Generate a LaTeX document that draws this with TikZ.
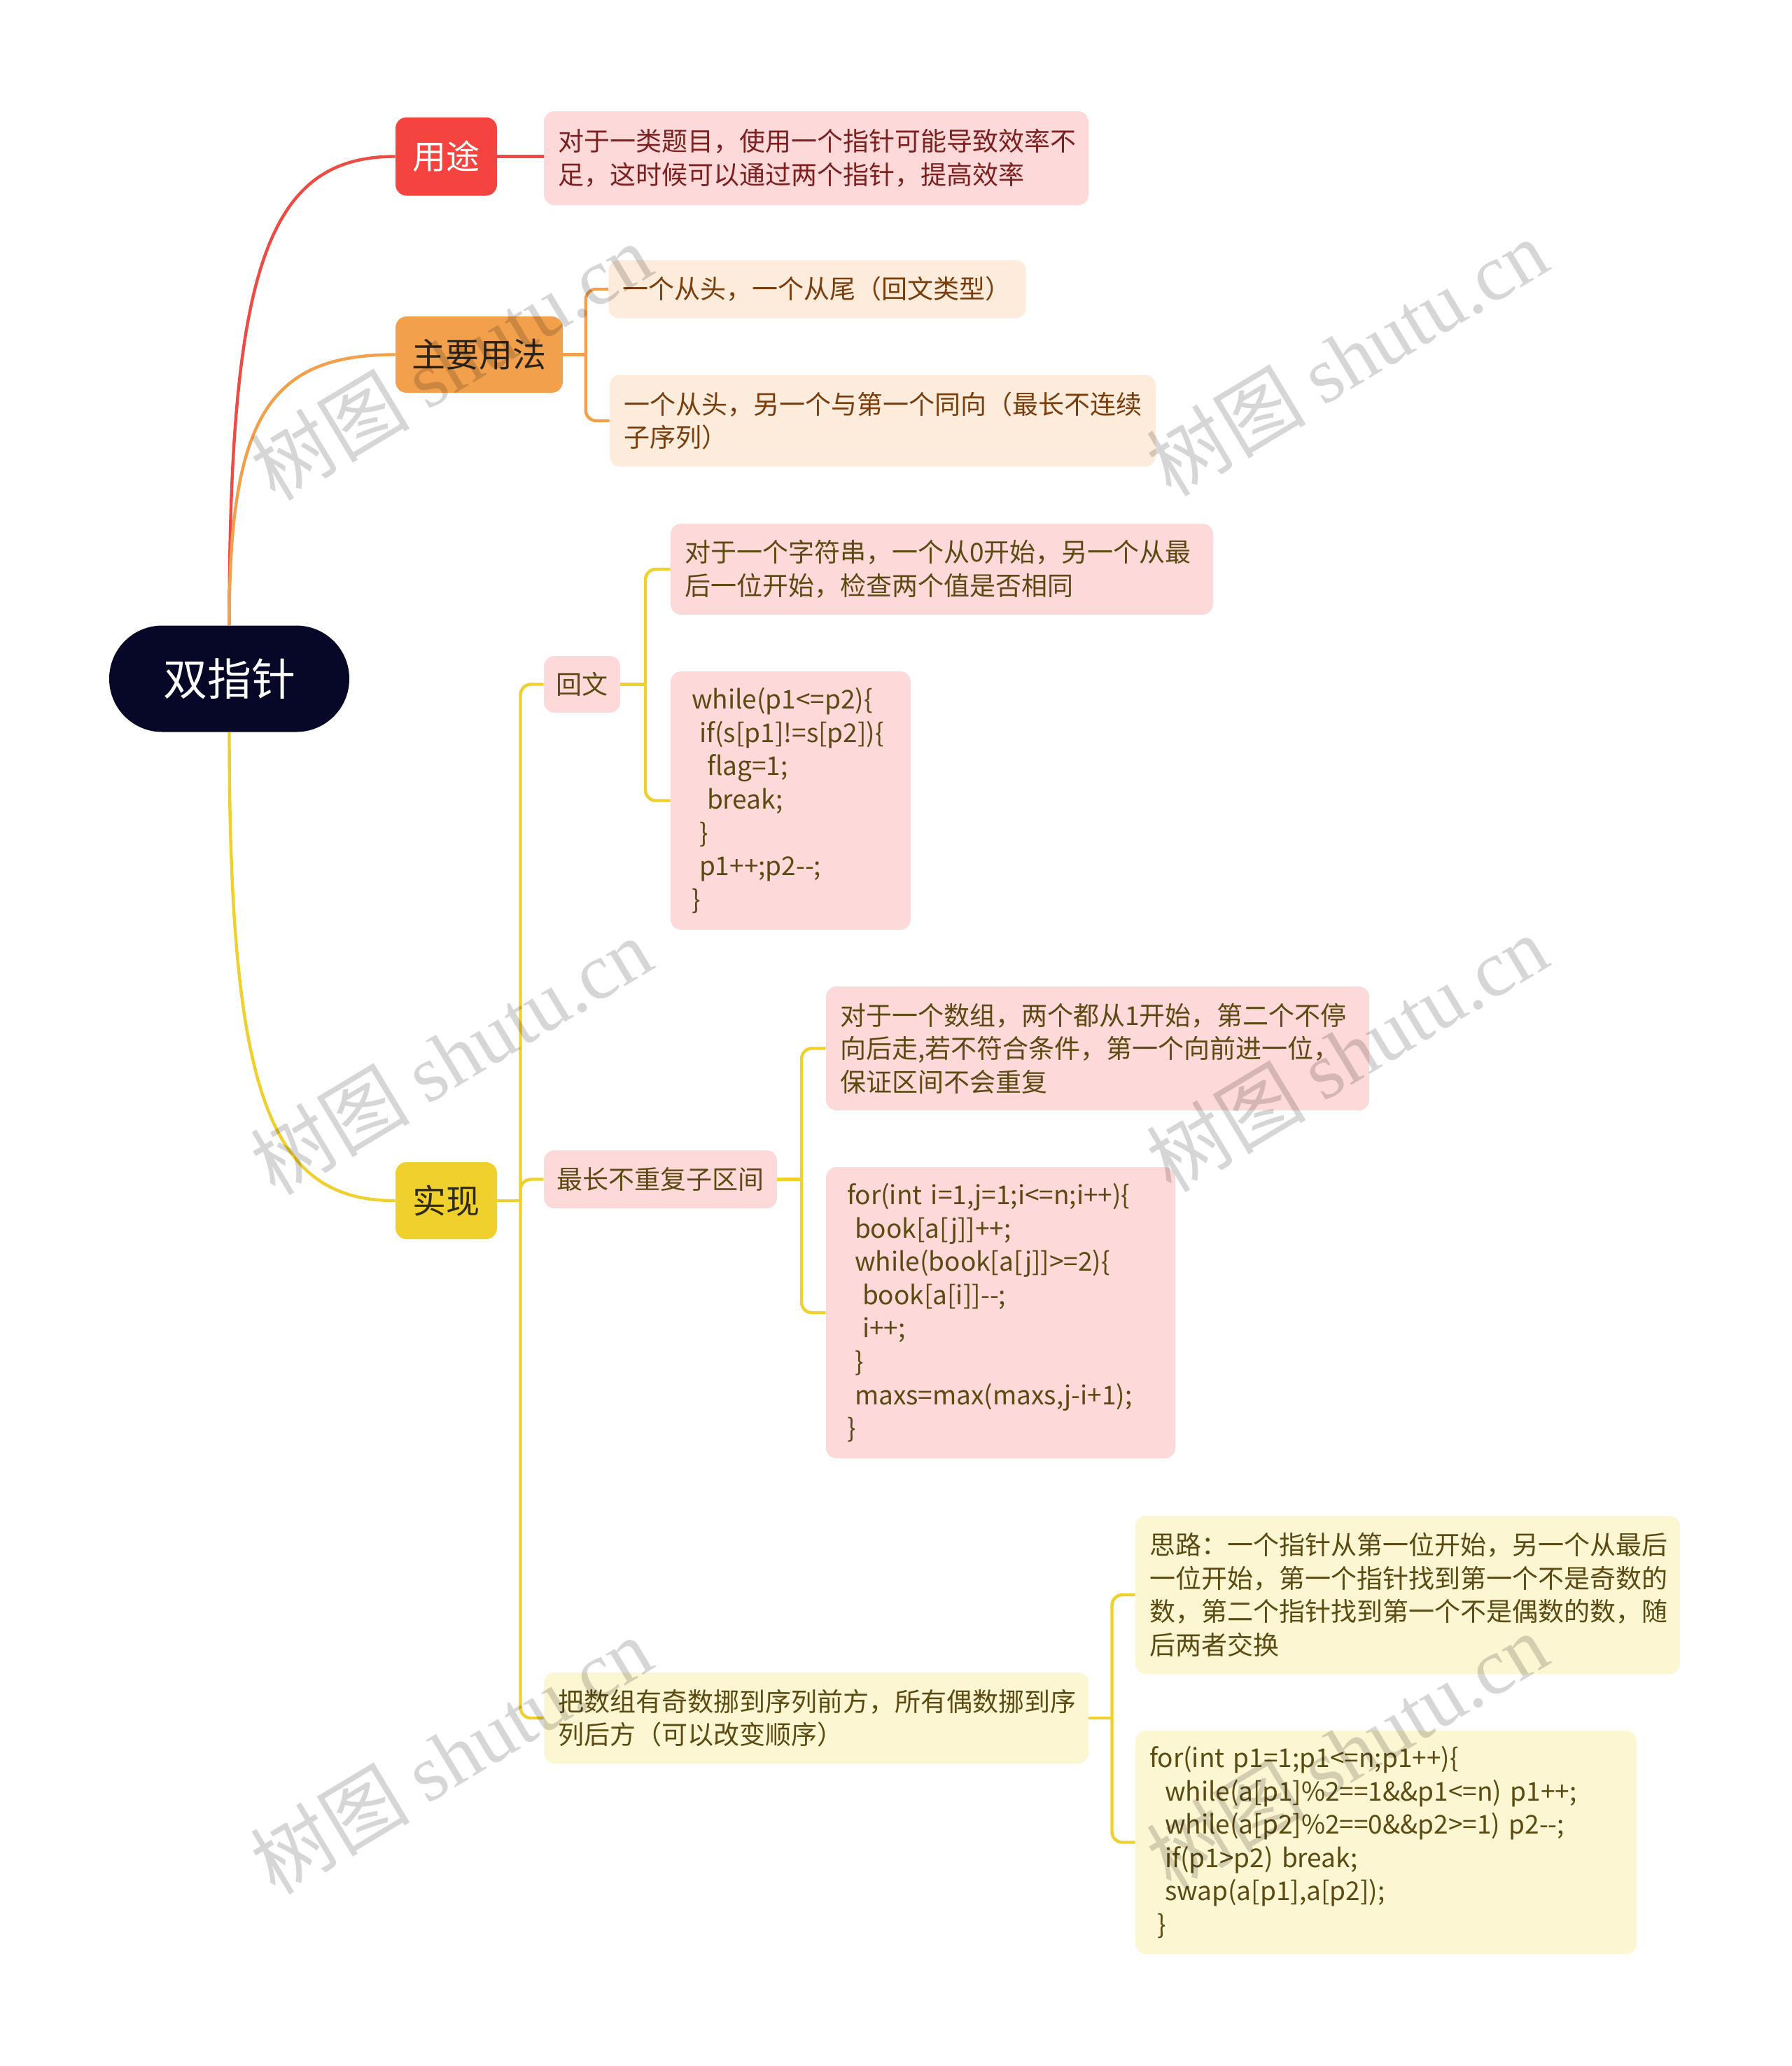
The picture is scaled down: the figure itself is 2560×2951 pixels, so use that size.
\documentclass[tikz,border=0pt]{standalone}
\usepackage{fontspec}
\setmainfont{Noto Sans CJK SC}
\newfontfamily\wmlatin{Liberation Serif}
\usetikzlibrary{calc}
\definecolor{cRoot}{HTML}{070828}
\definecolor{cRed}{HTML}{F5443F}
\definecolor{cRedL}{HTML}{EE4B45}
\definecolor{cOrange}{HTML}{F3A04C}
\definecolor{cYellow}{HTML}{F0D02C}
\definecolor{cPink}{HTML}{FDD9D9}
\definecolor{cPeach}{HTML}{FDEBDB}
\definecolor{cCream}{HTML}{FDF6D3}
\definecolor{tRed}{HTML}{7D2020}
\definecolor{tBrown}{HTML}{7A3D0C}
\definecolor{tOlive}{HTML}{5B4A12}
\definecolor{tDarkO}{HTML}{2E2416}
\definecolor{tDarkY}{HTML}{2E2A14}
\newcommand\txtfont{\fontsize{18.5}{23.8}\selectfont}
\newcommand\ind[1]{\hspace*{#1}}
\tikzset{
  rootbox/.style={fill=cRoot, text=white, rounded corners=37.9pt, inner sep=0pt,
    minimum width=171.5pt, minimum height=76pt, font=\fontsize{31.5}{38}\selectfont},
  mainbox/.style={rounded corners=8pt, inner sep=0pt, minimum width=72.5pt,
    minimum height=56pt, font=\fontsize{24}{28}\selectfont},
  leaf/.style={rounded corners=7.5pt, inner xsep=10pt, inner ysep=0pt, align=left, font=\txtfont},
  conn/.style={line width=2.2pt},
  elbow/.style={line width=2.2pt, rounded corners=7.5pt},
  wm/.style={font=\fontsize{57}{57}\selectfont, text=black, text opacity=0.16, rotate=31, inner sep=0pt}
}
\begin{document}
\begin{tikzpicture}[x=0.5pt, y=-0.5pt]
\useasboundingbox (0,0) rectangle (2560,2951);
% root and main branches
\node[rootbox] (root) at (327.5,969.5) {双指针};
\node[mainbox, fill=cRed, text=white] (yt) at (637.5,223.5) {用途};
\node[mainbox, fill=cOrange, text=tDarkO, minimum width=119.5pt, minimum height=54.5pt] (zy) at (684.5,506.5) {主要用法};
\node[mainbox, fill=cYellow, text=tDarkY, minimum height=55pt] (sx) at (637.5,1715) {实现};
% 用途
\node[leaf, fill=cPink, text=tRed, minimum width=389pt, minimum height=67pt, text width=369pt] (yt1) at (1166,226)
  {对于一类题目，使用一个指针可能导致效率不\\足，这时候可以通过两个指针，提高效率};
% 主要用法
\node[leaf, fill=cPeach, text=tBrown, minimum width=296.5pt, minimum height=41.5pt, text width=278pt] (zya) at (1167.5,413)
  {一个从头，一个从尾（回文类型）};
\node[leaf, fill=cPeach, text=tBrown, minimum width=390pt, minimum height=65.5pt, text width=370pt] (zyb) at (1261,601)
  {一个从头，另一个与第一个同向（最长不连续\\子序列）};
% 实现 children
\node[leaf, fill=cPink, text=tOlive, minimum width=54.5pt, minimum height=40.5pt, inner xsep=0pt, align=center] (hw) at (831.5,977.5) {回文};
\node[leaf, fill=cPink, text=tOlive, minimum width=166.5pt, minimum height=41.5pt, inner xsep=0pt, align=center] (zc) at (943.5,1684.5) {最长不重复子区间};
\node[leaf, fill=cCream, text=tOlive, minimum width=389pt, minimum height=65pt, text width=369pt] (bs) at (1166,2454)
  {把数组有奇数挪到序列前方，所有偶数挪到序\\列后方（可以改变顺序）};
% 回文 children
\node[leaf, fill=cPink, text=tOlive, minimum width=387.5pt, minimum height=65pt, text width=367.5pt] (hw1) at (1345.5,813)
  {对于一个字符串，一个从0开始，另一个从最\\后一位开始，检查两个值是否相同};
\node[leaf, fill=cPink, text=tOlive, minimum width=171.5pt, minimum height=184.5pt, text width=151.5pt] (hw2) at (1129.5,1143.5)
  {\ind{5pt}while(p1<=p2)\{\\
   \ind{10.5pt}if(s[p1]!=s[p2])\{\\
   \ind{16pt}flag=1;\\
   \ind{16pt}break;\\
   \ind{10.5pt}\}\\
   \ind{10.5pt}p1++;p2-{}-;\\
   \ind{5pt}\}};
% 最长 children
\node[leaf, fill=cPink, text=tOlive, minimum width=388pt, minimum height=88.5pt, text width=368pt] (zc1) at (1568,1497.5)
  {对于一个数组，两个都从1开始，第二个不停\\向后走,若不符合条件，第一个向前进一位，\\保证区间不会重复};
\node[leaf, fill=cPink, text=tOlive, minimum width=249.5pt, minimum height=208pt, text width=229.5pt] (zc2) at (1429.5,1875)
  {\ind{5pt}for(int i=1,j=1;i<=n;i++)\{\\
   \ind{10.5pt}book[a[j]]++;\\
   \ind{10.5pt}while(book[a[j]]>=2)\{\\
   \ind{16pt}book[a[i]]-{}-;\\
   \ind{16pt}i++;\\
   \ind{10.5pt}\}\\
   \ind{10.5pt}maxs=max(maxs,j-i+1);\\
   \ind{5pt}\}};
% 把数组 children
\node[leaf, fill=cCream, text=tOlive, minimum width=389pt, minimum height=113pt, text width=369pt] (bs1) at (2011,2278)
  {思路：一个指针从第一位开始，另一个从最后\\一位开始，第一个指针找到第一个不是奇数的\\数，第二个指针找到第一个不是偶数的数，随\\后两者交换};
\node[leaf, fill=cCream, text=tOlive, minimum width=358pt, minimum height=159.5pt, text width=338pt] (bs2) at (1980,2631.5)
  {for(int p1=1;p1<=n;p1++)\{\\
   \ind{11pt}while(a[p1]\%2==1\&\&p1<=n) p1++;\\
   \ind{11pt}while(a[p2]\%2==0\&\&p2>=1) p2-{}-;\\
   \ind{11pt}if(p1>p2) break;\\
   \ind{11pt}swap(a[p1],a[p2]);\\
   \ind{5.5pt}\}};
% root curves
\draw[conn, draw=cRedL] (root.north) .. controls ($(root.north)!0.77!(root.north|-yt.west)$) and ($(yt.west)!0.76!(yt.west-|root.north)$) .. (yt.west);
\draw[conn, draw=cOrange] (root.north) .. controls ($(root.north)!0.77!(root.north|-zy.west)$) and ($(zy.west)!0.76!(zy.west-|root.north)$) .. (zy.west);
\draw[conn, draw=cYellow] (root.south) .. controls ($(root.south)!0.77!(root.south|-sx.west)$) and ($(sx.west)!0.76!(sx.west-|root.south)$) .. (sx.west);
% 用途 link
\draw[conn, draw=cRedL] (yt.east) -- (yt.east-|yt1.west);
% 主要用法 elbows
\coordinate (jzy) at ($(zy.east)!0.5!(zya.west|-zy.east)$);
\draw[conn, draw=cOrange] (zy.east) -- (jzy);
\draw[elbow, draw=cOrange] (jzy) |- (zya.west);
\draw[elbow, draw=cOrange] (jzy) |- (zyb.west);
% 实现 elbows
\coordinate (jsx) at ($(sx.east)!0.5!(hw.west|-sx.east)$);
\draw[conn, draw=cYellow] (sx.east) -- (jsx);
\draw[elbow, draw=cYellow] (jsx) |- (hw.west);
\draw[elbow, draw=cYellow] (jsx) |- (zc.west);
\draw[elbow, draw=cYellow] (jsx) |- (bs.west);
% 回文 elbows
\coordinate (jhw) at ($(hw.east)!0.5!(hw1.west|-hw.east)$);
\draw[conn, draw=cYellow] (hw.east) -- (jhw);
\draw[elbow, draw=cYellow] (jhw) |- (hw1.west);
\draw[elbow, draw=cYellow] (jhw) |- (hw2.west);
% 最长 elbows
\coordinate (jzc) at ($(zc.east)!0.5!(zc1.west|-zc.east)$);
\draw[conn, draw=cYellow] (zc.east) -- (jzc);
\draw[elbow, draw=cYellow] (jzc) |- (zc1.west);
\draw[elbow, draw=cYellow] (jzc) |- (zc2.west);
% 把数组 elbows
\coordinate (jbs) at ($(bs.east)!0.5!(bs1.west|-bs.east)$);
\draw[conn, draw=cYellow] (bs.east) -- (jbs);
\draw[elbow, draw=cYellow] (jbs) |- (bs1.west);
\draw[elbow, draw=cYellow] (jbs) |- (bs2.west);
% watermarks
\node[wm] (wm1) at (644,516) {树图 {\wmlatin shutu.cn}};
\node[wm] (wm2) at (1924,510) {树图 {\wmlatin shutu.cn}};
\node[wm] (wm3) at (644,1508) {树图 {\wmlatin shutu.cn}};
\node[wm] (wm4) at (1924,1504) {树图 {\wmlatin shutu.cn}};
\node[wm] (wm5) at (644,2507) {树图 {\wmlatin shutu.cn}};
\node[wm] (wm6) at (1924,2501) {树图 {\wmlatin shutu.cn}};
\end{tikzpicture}
\end{document}
